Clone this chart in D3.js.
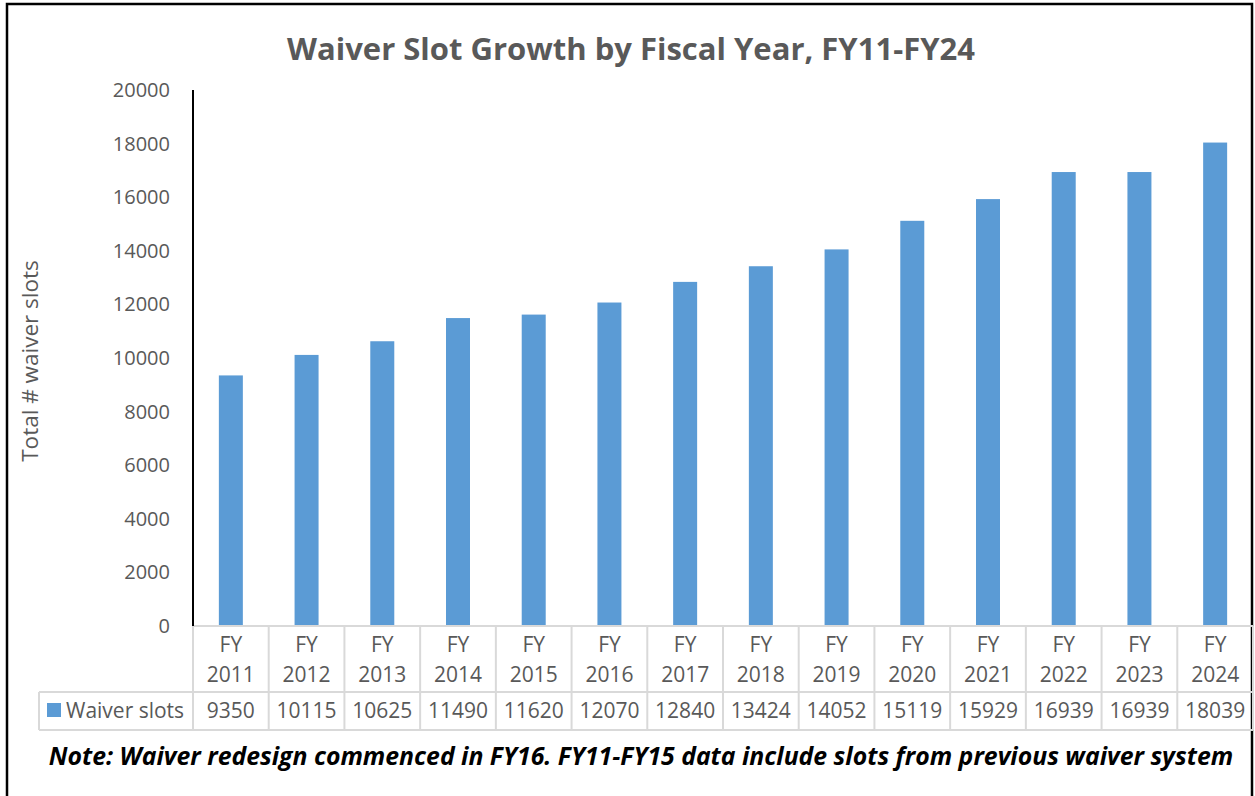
<!DOCTYPE html>
<html>
<head>
<meta charset="utf-8">
<script src="https://cdn.jsdelivr.net/npm/d3@7"></script>
<style>
  body { margin: 0; background: #fff; }
  svg { display: block; font-family: "Open Sans", sans-serif; }
</style>
</head>
<body>
<div id="chart"></div>
<script>
// Waiver slots by fiscal year
const years = ["2011", "2012", "2013", "2014", "2015", "2016", "2017", "2018", "2019", "2020", "2021", "2022", "2023", "2024"];
const slots = [9350, 10115, 10625, 11490, 11620, 12070, 12840, 13424, 14052, 15119, 15929, 16939, 16939, 18039];
const yTicks = [0, 2000, 4000, 6000, 8000, 10000, 12000, 14000, 16000, 18000, 20000];
const seriesName = "Waiver slots";

const width = 1255;
const height = 796;
const plotBottom = 626;
const barColor = "#5b9bd5";
const textColor = "#595959";
const gridColor = "#d9d9d9";

const svg = d3.select("#chart")
    .append("svg")
    .attr("width", width)
    .attr("height", height);

// outer frame
svg.append("rect")
    .attr("x", 7).attr("y", 4)
    .attr("width", 1245).attr("height", 800)
    .attr("fill", "none")
    .attr("stroke", "#000")
    .attr("stroke-width", 2.5);

const x = d3.scaleBand()
    .domain(years)
    .range([193, 1253])
    .paddingInner(0)
    .paddingOuter(0);

const y = d3.scaleLinear()
    .domain([0, 20000])
    .range([plotBottom, 90]);

// title
svg.append("text")
    .attr("x", 631).attr("y", 60)
    .attr("text-anchor", "middle")
    .attr("font-size", 31)
    .attr("font-weight", "bold")
    .attr("fill", textColor)
    .text("Waiver Slot Growth by Fiscal Year, FY11-FY24");

// bars
const barW = 24;
svg.selectAll("rect.bar")
    .data(years)
    .enter()
    .append("rect")
    .attr("class", "bar")
    .attr("x", d => x(d) + x.bandwidth() / 2 - barW / 2)
    .attr("y", (d, i) => y(slots[i]))
    .attr("width", barW)
    .attr("height", (d, i) => plotBottom - y(slots[i]))
    .attr("fill", barColor);

// y axis
const yAxis = svg.append("g")
    .attr("transform", "translate(193,0)")
    .call(d3.axisLeft(y).tickValues(yTicks).tickSize(0).tickPadding(23).tickFormat(d3.format("d")));
yAxis.select(".domain").remove();
yAxis.selectAll("text")
    .attr("font-size", 20)
    .attr("fill", textColor)
    .attr("font-family", "'Open Sans', sans-serif");

svg.append("text")
    .attr("transform", "translate(38,361) rotate(-90)")
    .attr("text-anchor", "middle")
    .attr("font-size", 22.5)
    .attr("fill", textColor)
    .text("Total # waiver slots");

// data table
const rowTop = 626, rowMid = 692, rowBottom = 730, legendLeft = 39;
const grid = svg.append("g")
    .attr("stroke", gridColor)
    .attr("stroke-width", 2);

grid.append("line").attr("x1", 193).attr("x2", 1253).attr("y1", rowTop).attr("y2", rowTop);
grid.append("line").attr("x1", legendLeft).attr("x2", 1253).attr("y1", rowMid).attr("y2", rowMid);
grid.append("line").attr("x1", legendLeft).attr("x2", 1253).attr("y1", rowBottom).attr("y2", rowBottom);
grid.append("line").attr("x1", legendLeft).attr("x2", legendLeft).attr("y1", rowMid).attr("y2", rowBottom);
grid.selectAll("line.col")
    .data(years.slice(1))
    .enter()
    .append("line")
    .attr("class", "col")
    .attr("x1", d => x(d)).attr("x2", d => x(d))
    .attr("y1", rowTop).attr("y2", rowBottom);
grid.append("line").attr("x1", 193).attr("x2", 193).attr("y1", rowTop).attr("y2", rowBottom);
grid.append("line").attr("x1", 1253).attr("x2", 1253).attr("y1", rowTop).attr("y2", rowBottom);

// y axis line drawn over the grid
svg.append("line")
    .attr("x1", 193).attr("x2", 193)
    .attr("y1", 90).attr("y2", plotBottom)
    .attr("stroke", "#000").attr("stroke-width", 2);

const header = svg.selectAll("text.cat")
    .data(years)
    .enter()
    .append("text")
    .attr("class", "cat")
    .attr("text-anchor", "middle")
    .attr("font-size", 21)
    .attr("fill", textColor);
header.append("tspan")
    .attr("x", d => x(d) + x.bandwidth() / 2)
    .attr("y", 652)
    .text("FY");
header.append("tspan")
    .attr("x", d => x(d) + x.bandwidth() / 2)
    .attr("y", 682)
    .text(d => d);

svg.selectAll("text.val")
    .data(years)
    .enter()
    .append("text")
    .attr("class", "val")
    .attr("x", d => x(d) + x.bandwidth() / 2)
    .attr("y", 718)
    .attr("text-anchor", "middle")
    .attr("font-size", 21)
    .attr("fill", textColor)
    .text((d, i) => slots[i]);

// legend key in the table
svg.append("rect")
    .attr("x", 47).attr("y", 703)
    .attr("width", 14).attr("height", 14)
    .attr("fill", barColor);
svg.append("text")
    .attr("x", 66).attr("y", 718)
    .attr("font-size", 21)
    .attr("fill", textColor)
    .text(seriesName);

// note
svg.append("text")
    .attr("x", 641).attr("y", 765)
    .attr("text-anchor", "middle")
    .attr("font-size", 24.8)
    .attr("font-weight", "bold")
    .attr("font-style", "italic")
    .attr("fill", "#000")
    .text("Note: Waiver redesign commenced in FY16. FY11-FY15 data include slots from previous waiver system");
</script>
</body>
</html>
